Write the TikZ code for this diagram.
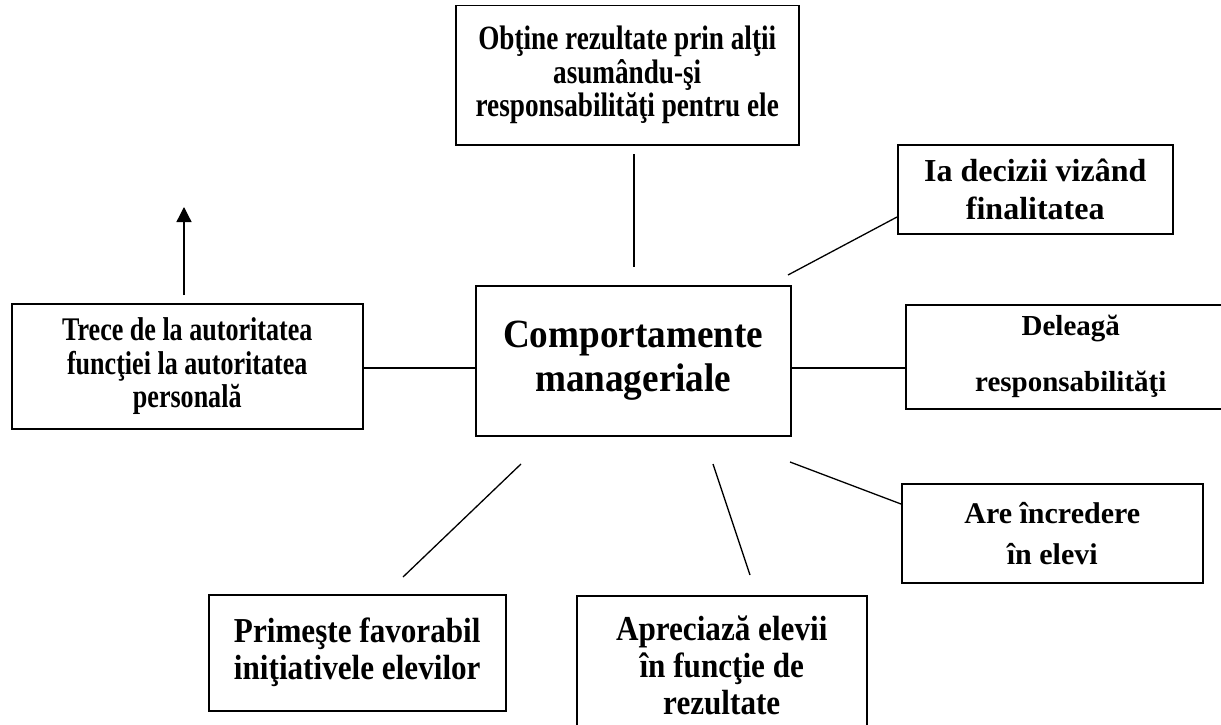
\documentclass[tikz,border=0pt]{standalone}
\usepackage{fontspec}
\setmainfont{Liberation Serif}
\newfontfamily\fsTop[FakeStretch=0.8]{Liberation Serif}
\newfontfamily\fsLeft[FakeStretch=0.79]{Liberation Serif}
\newfontfamily\fsLow[FakeStretch=0.89]{Liberation Serif}
\newfontfamily\fsMid[FakeStretch=0.93]{Liberation Serif}
\usetikzlibrary{arrows.meta}
\begin{document}
\begin{tikzpicture}[x=1pt,y=-1pt,
  box/.style={draw, line width=1.5pt, inner sep=0pt, align=center, anchor=north west},
  conn/.style={line width=1.3pt},
  fTop/.style={font={\lineskiplimit=-100pt\relax\fsTop\bfseries\fontsize{34}{33.5}\selectfont}},
  fLeft/.style={font={\lineskiplimit=-100pt\relax\fsLeft\bfseries\fontsize{33}{33.5}\selectfont}},
  fLow/.style={font={\lineskiplimit=-100pt\relax\fsLow\bfseries\fontsize{35}{37}\selectfont}},
  fMid/.style={font={\lineskiplimit=-100pt\relax\fsMid\bfseries\fontsize{40}{44}\selectfont}},
  fIa/.style={font={\lineskiplimit=-100pt\relax\bfseries\fontsize{32}{38}\selectfont}},
  fDel/.style={font={\lineskiplimit=-100pt\relax\bfseries\fontsize{29}{56}\selectfont}},
  fAre/.style={font={\lineskiplimit=-100pt\relax\bfseries\fontsize{30}{41}\selectfont}}
]
\useasboundingbox[fill=white] (0,0) rectangle (1221,725);

\node[box, fTop, minimum width=343pt, minimum height=139pt] (obt) at (455,5)
  {Obţine rezultate prin alţii\\asumându-şi\\responsabilităţi pentru ele};
\node[box, fIa, minimum width=275pt, minimum height=89pt] (ia) at (897,144)
  {Ia decizii vizând\\finalitatea};
\node[box, fMid, minimum width=315pt, minimum height=150pt] (cm) at (475,285)
  {Comportamente\\manageriale};
\node[box, fDel, minimum width=330pt, minimum height=104pt] (del) at (905,304)
  {Deleagă\\responsabilităţi};
\node[box, fLeft, minimum width=351pt, minimum height=125pt] (tre) at (11,303)
  {Trece de la autoritatea\\funcţiei la autoritatea\\personală};
\node[box, fAre, minimum width=301pt, minimum height=99pt] (are) at (901,483)
  {Are încredere\\în elevi};
\node[box, fLow, minimum width=297pt, minimum height=116pt] (pri) at (208,594)
  {Primeşte favorabil\\iniţiativele elevilor};
\node[box, fLow, minimum width=290pt, minimum height=140pt] (apr) at (576,595)
  {Apreciază elevii\\în funcţie de\\rezultate};

% free ends of the connectors
\coordinate (vtop) at (634,154);
\coordinate (vbot) at (634,267);
\coordinate (iaS) at (788,275);
\coordinate (arS) at (184,295);
\coordinate (arE) at (184,207);
\coordinate (prS) at (521,464);
\coordinate (prE) at (403,577);
\coordinate (apS) at (713,464);
\coordinate (apE) at (750,575);
\coordinate (reS) at (790,462);

\draw[conn] (vtop) -- (vbot);
\draw[conn] (iaS) -- (ia.west |- 0,217);
\draw[conn] (cm.east |- 0,368) -- (del.west |- 0,368);
\draw[conn] (tre.east |- 0,368) -- (cm.west |- 0,368);
\draw[conn, -{Triangle[length=15pt,width=15pt]}] (arS) -- (arE);
\draw[conn] (prS) -- (prE);
\draw[conn] (apS) -- (apE);
\draw[conn] (reS) -- (are.west |- 0,504);
\end{tikzpicture}
\end{document}
